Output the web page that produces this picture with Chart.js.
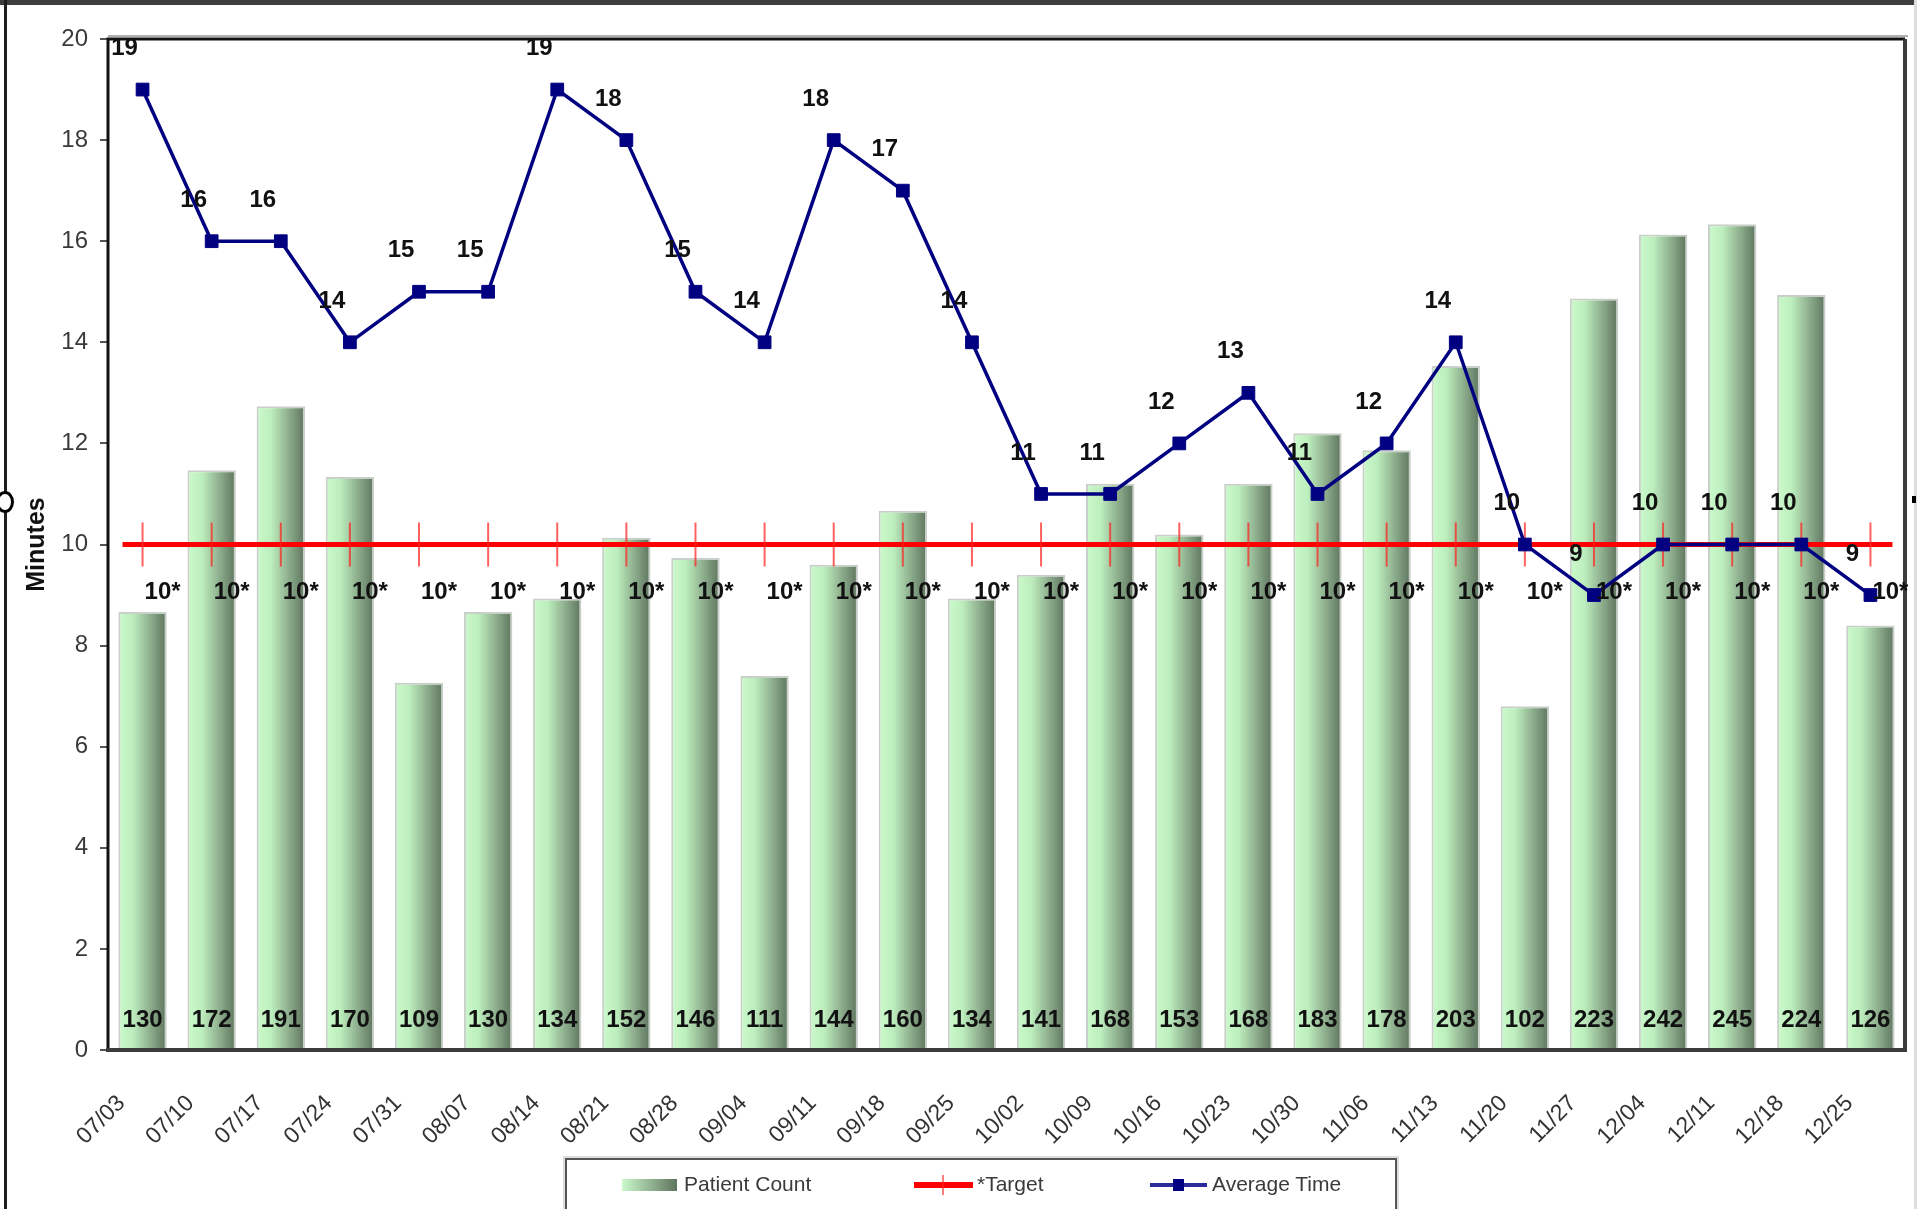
<!DOCTYPE html>
<html>
<head>
<meta charset="utf-8">
<script src="https://cdn.jsdelivr.net/npm/chart.js@4.4.1/dist/chart.umd.min.js"></script>
<style>
    html, body { margin: 0; padding: 0; background: #fff; overflow: hidden; }
    #wrap { position: relative; width: 1917px; height: 1209px; }
    #chart { position: absolute; left: 0; top: 0; }
    .frame { position: absolute; }
    #legend {
        position: absolute; left: 565px; top: 1158px; width: 828px; height: 70px;
        border: 2px solid #555; box-shadow: 0 0 0 2px #ddd; background: #fff;
        font-family: "Liberation Sans", Arial, sans-serif; font-size: 21px; color: #3a3a3a;
    }
    .item { position: absolute; top: 0; height: 50px; }
    .item span { position: absolute; top: 12px; white-space: nowrap; }
</style>
</head>
<body>
<div id="wrap">
    <canvas id="chart" width="1917" height="1209"></canvas>
    <div class="frame" style="left:0;top:0;width:1917px;height:5px;background:#3d3d3d"></div>
    <div class="frame" style="left:4px;top:0;width:3px;height:1209px;background:#1e1e1e"></div>
    <div class="frame" style="right:0;top:0;width:3px;height:1209px;background:#ddd"></div>
    <div class="frame" style="left:-4px;top:491px;width:12px;height:16px;border:3px solid #000;border-radius:50%;background:#fff"></div>
    <div class="frame" style="right:1px;top:496px;width:4px;height:7px;background:#000"></div>
    <div id="legend"></div>
</div>
<script>
// Weekly patient counts and average wait time vs target
const weeks = ['07/03', '07/10', '07/17', '07/24', '07/31', '08/07', '08/14', '08/21', '08/28',
    '09/04', '09/11', '09/18', '09/25', '10/02', '10/09', '10/16', '10/23', '10/30', '11/06',
    '11/13', '11/20', '11/27', '12/04', '12/11', '12/18', '12/25'];
const patientCount = [130, 172, 191, 170, 109, 130, 134, 152, 146, 111, 144, 160, 134,
    141, 168, 153, 168, 183, 178, 203, 102, 223, 242, 245, 224, 126];
const averageTime = [19, 16, 16, 14, 15, 15, 19, 18, 15, 14, 18, 17, 14,
    11, 11, 12, 13, 11, 12, 14, 10, 9, 10, 10, 10, 9];
const targetTime = [10, 10, 10, 10, 10, 10, 10, 10, 10, 10, 10, 10, 10,
    10, 10, 10, 10, 10, 10, 10, 10, 10, 10, 10, 10, 10];
const minuteTicks = [0, 2, 4, 6, 8, 10, 12, 14, 16, 18, 20];

const FONT = '"Liberation Sans", Arial, sans-serif';
Chart.defaults.font.family = FONT;

function barFill(context) {
    const chart = context.chart;
    const xs = chart.scales.x;
    if (!chart.chartArea || !xs || context.dataIndex === undefined) return '#a8d4a8';
    const cx = xs.getPixelForValue(context.dataIndex);
    const w = chart.chartArea.width / weeks.length * 0.7;
    const g = chart.ctx.createLinearGradient(cx - w / 2, 0, cx + w / 2, 0);
    g.addColorStop(0, '#cbf9cb');
    g.addColorStop(0.3, '#bdeebd');
    g.addColorStop(0.65, '#8fb08f');
    g.addColorStop(1, '#5e745e');
    return g;
}

// red target line runs a little past the first and last week
const targetEnds = {
    id: 'targetEnds',
    beforeDatasetDraw(chart, args) {
        if (chart.data.datasets[args.index].label !== '*Target') return;
        const pts = args.meta.data;
        const first = pts[0], last = pts[pts.length - 1];
        const ctx = chart.ctx;
        ctx.save();
        ctx.strokeStyle = '#ff0000';
        ctx.lineWidth = 5;
        ctx.beginPath();
        ctx.moveTo(first.x - 20, first.y); ctx.lineTo(first.x, first.y);
        ctx.moveTo(last.x, last.y); ctx.lineTo(last.x + 22, last.y);
        ctx.stroke();
        ctx.restore();
    }
};

const plotBox = {
    id: 'plotBox',
    afterDatasetsDraw(chart) {
        const a = chart.chartArea;
        const ctx = chart.ctx;
        ctx.save();
        ctx.fillStyle = '#b0b0b0';
        ctx.fillRect(a.left, a.top - 4, a.right - a.left + 3, 2);
        ctx.strokeStyle = '#111';
        ctx.lineWidth = 3;
        ctx.beginPath();
        ctx.moveTo(a.left, a.bottom);
        ctx.lineTo(a.left, a.top);
        ctx.lineTo(a.right, a.top);
        ctx.stroke();
        ctx.strokeStyle = '#3c3c3c';
        ctx.lineWidth = 4;
        ctx.beginPath();
        ctx.moveTo(a.right, a.top);
        ctx.lineTo(a.right, a.bottom);
        ctx.lineTo(a.left - 2, a.bottom);
        ctx.stroke();
        ctx.restore();
    }
};

const valueLabels = {
    id: 'valueLabels',
    afterDraw(chart) {
        const ctx = chart.ctx;
        ctx.save();
        ctx.font = 'bold 24px ' + FONT;
        ctx.fillStyle = '#111';
        ctx.textAlign = 'center';
        ctx.textBaseline = 'middle';
        chart.data.datasets.forEach((ds, i) => {
            chart.getDatasetMeta(i).data.forEach((el, j) => {
                const v = ds.data[j];
                if (ds.type === 'bar') {
                    ctx.fillText(v, el.x, chart.chartArea.bottom - 30);
                } else if (ds.label === '*Target') {
                    ctx.fillText(v + '*', el.x + 20, el.y + 48);
                } else {
                    ctx.fillText(v, el.x - 18, el.y - 41);
                }
            });
        });
        ctx.restore();
    }
};

const chart = new Chart(document.getElementById('chart'), {
    data: {
        labels: weeks,
        datasets: [
            {
                type: 'bar',
                label: 'Patient Count',
                data: patientCount,
                yAxisID: 'y2',
                backgroundColor: barFill,
                borderColor: 'rgba(165,175,165,0.6)',
                borderWidth: 2,
                barPercentage: 0.7,
                categoryPercentage: 1,
                order: 3
            },
            {
                type: 'line',
                label: '*Target',
                data: targetTime,
                yAxisID: 'y',
                borderColor: '#ff0000',
                borderWidth: 5,
                pointStyle: 'line',
                rotation: 90,
                pointRadius: 22,
                pointBorderColor: 'rgba(255,30,30,0.7)',
                pointBorderWidth: 2,
                order: 2
            },
            {
                type: 'line',
                label: 'Average Time',
                data: averageTime,
                yAxisID: 'y',
                borderColor: '#000080',
                borderWidth: 3.5,
                pointStyle: 'rect',
                pointRadius: 9,
                pointBackgroundColor: '#000080',
                pointBorderColor: '#000080',
                pointBorderWidth: 1,
                order: 1
            }
        ]
    },
    options: {
        responsive: false,
        animation: false,
        devicePixelRatio: 1,
        layout: { autoPadding: false, padding: { left: 0, top: 39, right: 12, bottom: 0 } },
        plugins: {
            legend: { display: false },
            tooltip: { enabled: false }
        },
        scales: {
            x: {
                grid: { display: false },
                border: { display: false },
                ticks: {
                    autoSkip: false,
                    minRotation: 45,
                    maxRotation: 45,
                    labelOffset: -21,
                    padding: 32,
                    color: '#333',
                    font: { size: 23 }
                },
                afterFit(s) {
                    s.height = 159;
                    s.paddingRight = 0;
                    s.paddingLeft = 0;
                }
            },
            y: {
                position: 'left',
                min: 0,
                max: 20,
                afterBuildTicks(s) { s.ticks = minuteTicks.map(v => ({ value: v })); },
                ticks: { padding: 12, color: '#3a3a3a', font: { size: 24 } },
                grid: { drawOnChartArea: false, tickLength: 8, color: '#555', lineWidth: 2 },
                border: { display: false },
                title: {
                    display: true,
                    text: 'Minutes',
                    color: '#111',
                    font: { size: 25, weight: 'bold' },
                    padding: { top: 22, bottom: 0 }
                },
                afterFit(s) {
                    s.width = 108;
                    s.paddingTop = 0;
                    s.paddingBottom = 0;
                }
            },
            y2: { display: false, min: 0, max: 300 }
        }
    },
    plugins: [targetEnds, plotBox, valueLabels]
});

// legend box like the spreadsheet one
const swatches = [
    '<div style="position:absolute;left:55px;top:19px;width:55px;height:12px;background:linear-gradient(to right,#cbf9cb,#5e745e)"></div>',
    '<div style="position:absolute;left:347px;top:22px;width:59px;height:6px;background:#ff0000"></div>' +
    '<div style="position:absolute;left:375px;top:15px;width:2px;height:20px;background:rgba(255,40,40,0.6)"></div>',
    '<div style="position:absolute;left:583px;top:23px;width:57px;height:4px;background:#2a2a9a"></div>' +
    '<div style="position:absolute;left:606px;top:19px;width:11px;height:12px;background:#000080"></div>'
];
const textLeft = [117, 410, 645];
document.getElementById('legend').innerHTML = chart.data.datasets.map((ds, i) =>
    swatches[i] + `<div class="item"><span style="left:${textLeft[i]}px">${ds.label}</span></div>`
).join('');
</script>
</body>
</html>
